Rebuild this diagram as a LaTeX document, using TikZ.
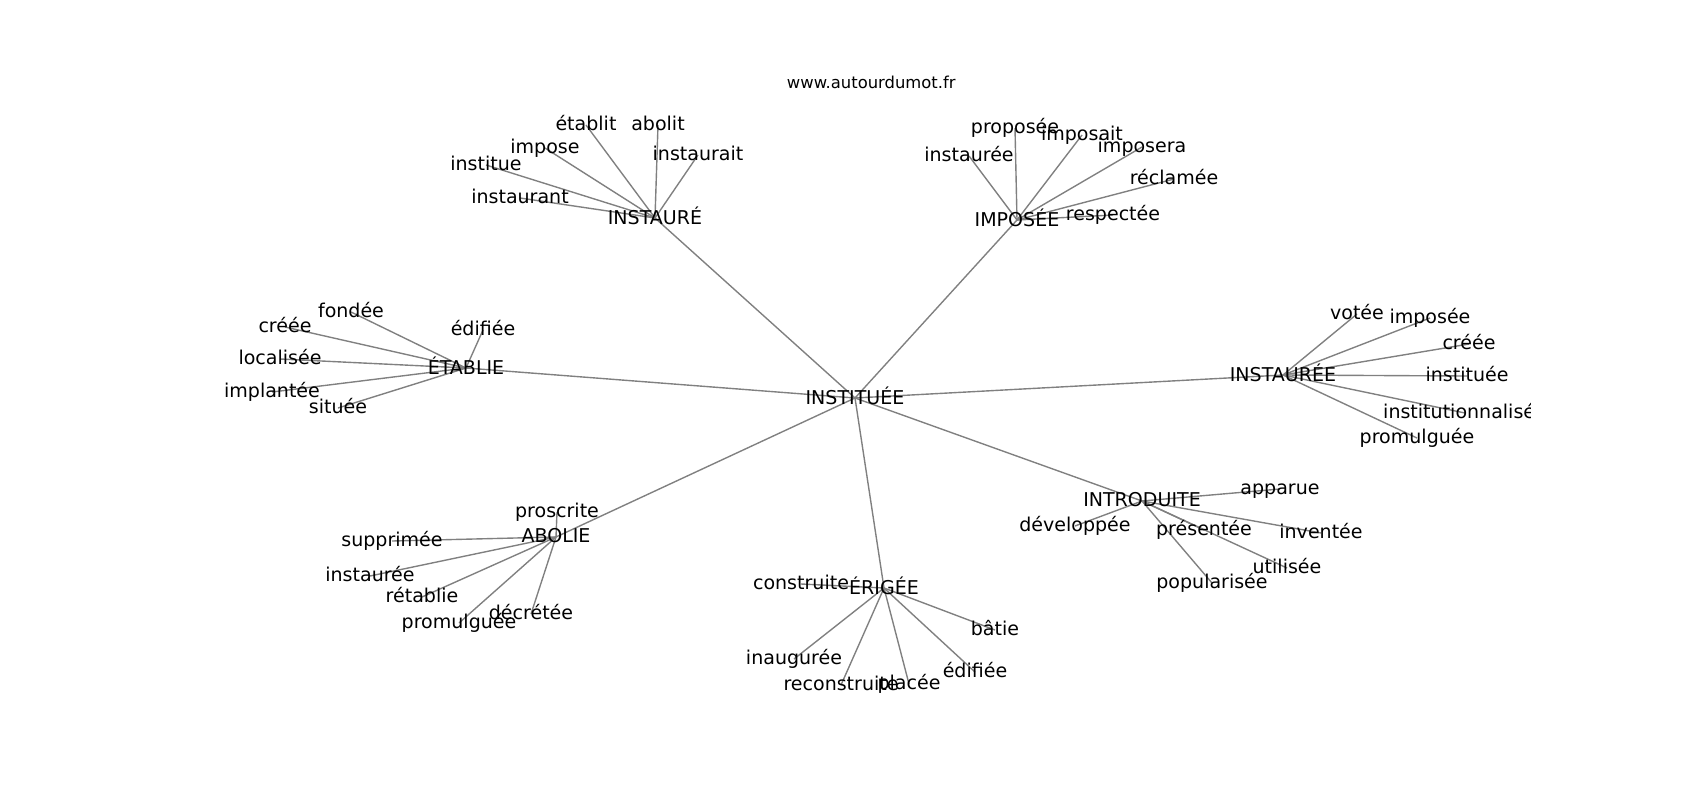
\documentclass[tikz,border=0pt]{standalone}
\usepackage{fontspec}
\setmainfont{DejaVu Sans}
\usetikzlibrary{backgrounds}
\tikzset{
	mot/.style={inner sep=0pt, font=\fontsize{13.7}{16}\selectfont, execute at begin node={\vphantom{lp}}},
	lien/.style={draw=gray, line width=1pt}
}

\begin{document}
\begin{tikzpicture}[x=0.72pt, y=-0.72pt]
			%%%%% START %%%%%
			
			\useasboundingbox (0,0) rectangle (1700,800);
			
			\node[inner sep=0pt, anchor=base, font=\fontsize{11.8}{14}\selectfont] (titre) at (871.25,88) {www.autourdumot.fr};
			
			\begin{scope}
			\clip (212.5,96) rectangle (1530,712);
			
			% centre et voisins
			\node[mot] (instituee) at (855,398) {INSTITUÉE};
			\node[mot] (instaure) at (655,218) {INSTAURÉ};
			\node[mot] (imposee) at (1017,220) {IMPOSÉE};
			\node[mot] (etablie) at (466,368) {ÉTABLIE};
			\node[mot] (instauree) at (1283,375) {INSTAURÉE};
			\node[mot] (introduite) at (1142,501) {INTRODUITE};
			\node[mot] (abolie) at (556,537) {ABOLIE};
			\node[mot] (erigee) at (884,588) {ÉRIGÉE};
			
			% INSTAURÉ
			\node[mot] (etablit) at (586,125) {établit};
			\node[mot] (abolit) at (658,125) {abolit};
			\node[mot] (impose) at (545,148) {impose};
			\node[mot] (institue) at (486,165) {institue};
			\node[mot] (instaurant) at (520,198) {instaurant};
			\node[mot] (instaurait) at (698,155) {instaurait};
			
			% IMPOSÉE
			\node[mot] (instaureeA) at (969,156) {instaurée};
			\node[mot] (proposee) at (1015,128) {proposée};
			\node[mot] (imposait) at (1082,135) {imposait};
			\node[mot] (imposera) at (1142,147) {imposera};
			\node[mot] (reclamee) at (1174,179) {réclamée};
			\node[mot] (respectee) at (1113,215) {respectée};
			
			% ÉTABLIE
			\node[mot] (fondee) at (351,312) {fondée};
			\node[mot] (creeeA) at (285,327) {créée};
			\node[mot] (localisee) at (280,359) {localisée};
			\node[mot] (implantee) at (272,392) {implantée};
			\node[mot] (situee) at (338,408) {située};
			\node[mot] (edifieeA) at (483,330) {édifiée};
			
			% INSTAURÉE
			\node[mot] (votee) at (1357,314) {votée};
			\node[mot] (imposeeB) at (1430,318) {imposée};
			\node[mot] (creeeB) at (1469,344) {créée};
			\node[mot] (instituee2) at (1467,376) {instituée};
			\node[mot] (institutionnalisee) at (1465,413) {institutionnalisée};
			\node[mot] (promulgueeA) at (1417,438) {promulguée};
			
			% INTRODUITE
			\node[mot] (apparue) at (1280,489) {apparue};
			\node[mot] (developpee) at (1075,526) {développée};
			\node[mot] (presentee) at (1204,530) {présentée};
			\node[mot] (inventee) at (1321,533) {inventée};
			\node[mot] (utilisee) at (1287,568) {utilisée};
			\node[mot] (popularisee) at (1212,583) {popularisée};
			
			% ABOLIE
			\node[mot] (proscrite) at (557,512) {proscrite};
			\node[mot] (supprimee) at (392,541) {supprimée};
			\node[mot] (instaureeB) at (370,576) {instaurée};
			\node[mot] (retablie) at (422,597) {rétablie};
			\node[mot] (decretee) at (531,614) {décrétée};
			\node[mot] (promulgueeB) at (459,623) {promulguée};
			
			% ÉRIGÉE
			\node[mot] (construite) at (801,584) {construite};
			\node[mot] (batie) at (995,630) {bâtie};
			\node[mot] (inauguree) at (794,659) {inaugurée};
			\node[mot] (reconstruite) at (841,685) {reconstruite};
			\node[mot] (placee) at (909,684) {placée};
			\node[mot] (edifieeB) at (975,672) {édifiée};
			\end{scope}
			
			\begin{scope}[on background layer]
			\draw[lien] (instituee.center) -- (instaure.center);
			\draw[lien] (instituee.center) -- (imposee.center);
			\draw[lien] (instituee.center) -- (etablie.center);
			\draw[lien] (instituee.center) -- (instauree.center);
			\draw[lien] (instituee.center) -- (introduite.center);
			\draw[lien] (instituee.center) -- (abolie.center);
			\draw[lien] (instituee.center) -- (erigee.center);
			
			\draw[lien] (instaure.center) -- (etablit.center);
			\draw[lien] (instaure.center) -- (abolit.center);
			\draw[lien] (instaure.center) -- (impose.center);
			\draw[lien] (instaure.center) -- (institue.center);
			\draw[lien] (instaure.center) -- (instaurant.center);
			\draw[lien] (instaure.center) -- (instaurait.center);
			
			\draw[lien] (imposee.center) -- (instaureeA.center);
			\draw[lien] (imposee.center) -- (proposee.center);
			\draw[lien] (imposee.center) -- (imposait.center);
			\draw[lien] (imposee.center) -- (imposera.center);
			\draw[lien] (imposee.center) -- (reclamee.center);
			\draw[lien] (imposee.center) -- (respectee.center);
			
			\draw[lien] (etablie.center) -- (fondee.center);
			\draw[lien] (etablie.center) -- (creeeA.center);
			\draw[lien] (etablie.center) -- (localisee.center);
			\draw[lien] (etablie.center) -- (implantee.center);
			\draw[lien] (etablie.center) -- (situee.center);
			\draw[lien] (etablie.center) -- (edifieeA.center);
			
			\draw[lien] (instauree.center) -- (votee.center);
			\draw[lien] (instauree.center) -- (imposeeB.center);
			\draw[lien] (instauree.center) -- (creeeB.center);
			\draw[lien] (instauree.center) -- (instituee2.center);
			\draw[lien] (instauree.center) -- (institutionnalisee.center);
			\draw[lien] (instauree.center) -- (promulgueeA.center);
			
			\draw[lien] (introduite.center) -- (apparue.center);
			\draw[lien] (introduite.center) -- (developpee.center);
			\draw[lien] (introduite.center) -- (presentee.center);
			\draw[lien] (introduite.center) -- (inventee.center);
			\draw[lien] (introduite.center) -- (utilisee.center);
			\draw[lien] (introduite.center) -- (popularisee.center);
			
			\draw[lien] (abolie.center) -- (proscrite.center);
			\draw[lien] (abolie.center) -- (supprimee.center);
			\draw[lien] (abolie.center) -- (instaureeB.center);
			\draw[lien] (abolie.center) -- (retablie.center);
			\draw[lien] (abolie.center) -- (decretee.center);
			\draw[lien] (abolie.center) -- (promulgueeB.center);
			
			\draw[lien] (erigee.center) -- (construite.center);
			\draw[lien] (erigee.center) -- (batie.center);
			\draw[lien] (erigee.center) -- (inauguree.center);
			\draw[lien] (erigee.center) -- (reconstruite.center);
			\draw[lien] (erigee.center) -- (placee.center);
			\draw[lien] (erigee.center) -- (edifieeB.center);
			\end{scope}
			
			%%%%% END %%%%%
\end{tikzpicture}
\end{document}
